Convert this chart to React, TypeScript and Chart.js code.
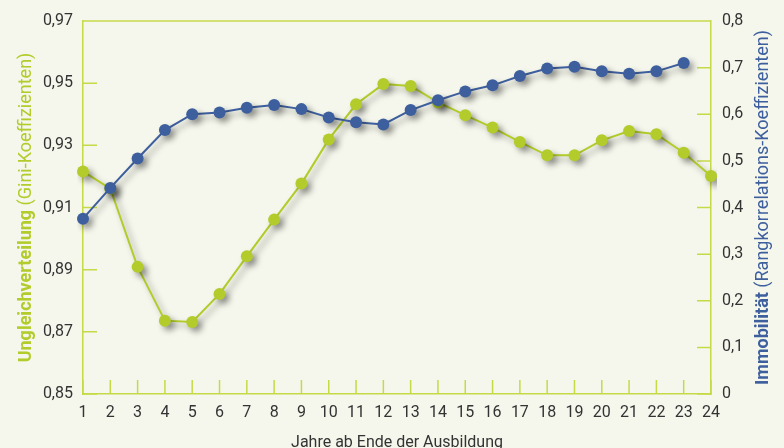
import React, { useEffect, useRef } from "react";
import { Chart, registerables } from "chart.js";

Chart.register(...registerables);

const YEARS = ["1","2","3","4","5","6","7","8","9","10","11","12","13","14","15","16","17","18","19","20","21","22","23","24"];
const GINI = [0.9216, 0.9161, 0.8909, 0.8736, 0.8732, 0.8822, 0.8943, 0.9061, 0.9177, 0.9319, 0.9432, 0.9497, 0.9491, 0.9438, 0.9397, 0.9357, 0.9311, 0.9268, 0.9268, 0.9316, 0.9346, 0.9336, 0.9276, 0.9201];
const RANK = [0.376, 0.442, 0.505, 0.566, 0.600, 0.604, 0.614, 0.620, 0.611, 0.593, 0.583, 0.578, 0.609, 0.630, 0.649, 0.662, 0.682, 0.698, 0.702, 0.692, 0.687, 0.692, 0.710, null];
const LEFT_TICKS = [0.85, 0.87, 0.89, 0.91, 0.93, 0.95, 0.97];
const RIGHT_TICKS = [0, 0.1, 0.2, 0.3, 0.4, 0.5, 0.6, 0.7, 0.8];
const LEFT_TITLE_BOLD = "Ungleichverteilung";
const LEFT_TITLE_REST = " (Gini-Koeffizienten)";
const RIGHT_TITLE_BOLD = "Immobilität";
const RIGHT_TITLE_REST = " (Rangkorrelations-Koeffizienten)";
const X_TITLE = "Jahre ab Ende der Ausbildung";

const BG = "#f5f7ec";
const AXIS_GREEN = "#c6da48";
const GREEN = "#b3cb2b";
const BLUE = "#3e5f9e";
const TEXT = "#333333";
const FONT = "Roboto, 'Noto Sans', sans-serif";

export default function App() {
  const ref = useRef<HTMLCanvasElement | null>(null);

  useEffect(() => {
    const canvas = ref.current;
    if (!canvas) return;

    const bgPlugin = {
      id: "bg",
      beforeDraw(chart: any) {
        const ctx = chart.ctx;
        ctx.save();
        ctx.fillStyle = BG;
        ctx.fillRect(0, 0, chart.width, chart.height);
        ctx.restore();
      },
    };

    const innerTicks = {
      id: "innerTicks",
      beforeDatasetsDraw(chart: any) {
        const ctx = chart.ctx;
        const { left, right, top, bottom } = chart.chartArea;
        const len = 14;
        ctx.save();
        ctx.strokeStyle = AXIS_GREEN;
        ctx.lineWidth = 1.5;
        ctx.beginPath();
        ctx.moveTo(left, top);
        ctx.lineTo(right, top);
        const xs = chart.scales.x;
        for (let i = 0; i < YEARS.length; i++) {
          const px = xs.getPixelForValue(i);
          ctx.moveTo(px, bottom);
          ctx.lineTo(px, bottom - len);
        }
        const yl = chart.scales.y;
        LEFT_TICKS.forEach((v) => {
          const py = yl.getPixelForValue(v);
          ctx.moveTo(left, py);
          ctx.lineTo(left + len, py);
        });
        const yr = chart.scales.y1;
        RIGHT_TICKS.forEach((v) => {
          const py = yr.getPixelForValue(v);
          ctx.moveTo(right, py);
          ctx.lineTo(right - len, py);
        });
        ctx.stroke();
        ctx.restore();
      },
    };

    const shadow = {
      id: "shadow",
      beforeDatasetDraw(chart: any) {
        const ctx = chart.ctx;
        ctx.save();
        ctx.shadowColor = "rgba(0,0,0,0.38)";
        ctx.shadowBlur = 6;
        ctx.shadowOffsetX = 4;
        ctx.shadowOffsetY = 4;
      },
      afterDatasetDraw(chart: any) {
        chart.ctx.restore();
      },
    };

    const titles = {
      id: "titles",
      afterDraw(chart: any) {
        const ctx = chart.ctx;
        const { left, right, top, bottom } = chart.chartArea;
        const cy = (top + bottom) / 2;
        const drawRot = (cx: number, bold: string, rest: string, color: string) => {
          ctx.save();
          ctx.translate(cx, cy);
          ctx.rotate(-Math.PI / 2);
          ctx.fillStyle = color;
          ctx.textBaseline = "middle";
          ctx.textAlign = "left";
          ctx.font = `bold 18px ${FONT}`;
          const wb = ctx.measureText(bold).width;
          ctx.font = `18px ${FONT}`;
          const wr = ctx.measureText(rest).width;
          const start = -(wb + wr) / 2;
          ctx.font = `bold 18px ${FONT}`;
          ctx.fillText(bold, start, 0);
          ctx.font = `18px ${FONT}`;
          ctx.fillText(rest, start + wb, 0);
          ctx.restore();
        };
        drawRot(26, LEFT_TITLE_BOLD, LEFT_TITLE_REST, GREEN);
        drawRot(763, RIGHT_TITLE_BOLD, RIGHT_TITLE_REST, BLUE);
        ctx.save();
        ctx.fillStyle = TEXT;
        ctx.font = `16px ${FONT}`;
        ctx.textAlign = "center";
        ctx.textBaseline = "middle";
        ctx.fillText(X_TITLE, (left + right) / 2, 443);
        ctx.restore();
      },
    };

    const chart = new Chart(canvas, {
      type: "line",
      data: {
        labels: YEARS,
        datasets: [
          {
            label: "Immobilität",
            data: RANK,
            yAxisID: "y1",
            borderColor: BLUE,
            backgroundColor: BLUE,
            pointBackgroundColor: BLUE,
            pointBorderWidth: 0,
            pointRadius: 6,
            borderWidth: 2,
            tension: 0,
          },
          {
            label: "Ungleichverteilung",
            data: GINI,
            yAxisID: "y",
            borderColor: GREEN,
            backgroundColor: GREEN,
            pointBackgroundColor: GREEN,
            pointBorderWidth: 0,
            pointRadius: 6,
            borderWidth: 2,
            tension: 0,
          },
        ],
      },
      options: {
        responsive: false,
        animation: false,
        layout: { padding: { top: 21, left: 0, right: 0, bottom: 0 } },
        plugins: {
          legend: { display: false },
          tooltip: { enabled: false },
          title: { display: false },
        },
        scales: {
          x: {
            type: "category",
            offset: false,
            grid: { display: false, drawTicks: false },
            border: { display: true, color: AXIS_GREEN, width: 1.5 },
            ticks: {
              color: TEXT,
              font: { family: FONT, size: 16 },
              padding: 9,
              maxRotation: 0,
              autoSkip: false,
            },
            afterFit(scale: any) {
              scale.height = 54;
            },
          },
          y: {
            type: "linear",
            position: "left",
            min: 0.85,
            max: 0.97,
            grid: { display: false, drawTicks: false },
            border: { display: true, color: AXIS_GREEN, width: 1.5 },
            afterBuildTicks(scale: any) {
              scale.ticks = LEFT_TICKS.map((v) => ({ value: v }));
            },
            ticks: {
              color: TEXT,
              font: { family: FONT, size: 16 },
              padding: 10,
              callback: (v: any) => Number(v).toFixed(2).replace(".", ","),
            },
            afterFit(scale: any) {
              scale.width = 83;
            },
          },
          y1: {
            type: "linear",
            position: "right",
            min: 0,
            max: 0.8,
            grid: { display: false, drawTicks: false },
            border: { display: true, color: AXIS_GREEN, width: 1.5 },
            afterBuildTicks(scale: any) {
              scale.ticks = RIGHT_TICKS.map((v) => ({ value: v }));
            },
            ticks: {
              color: TEXT,
              font: { family: FONT, size: 16 },
              padding: 11,
              callback: (v: any) => (Number(v) === 0 ? "0" : Number(v).toFixed(1).replace(".", ",")),
            },
            afterFit(scale: any) {
              scale.width = 73;
            },
          },
        },
      },
      plugins: [bgPlugin, innerTicks, shadow, titles],
    } as any);

    return () => chart.destroy();
  }, []);

  return (
    <canvas
      ref={ref}
      width={784}
      height={448}
      style={{ position: "fixed", left: 0, top: 0, width: 784, height: 448 }}
    />
  );
}
